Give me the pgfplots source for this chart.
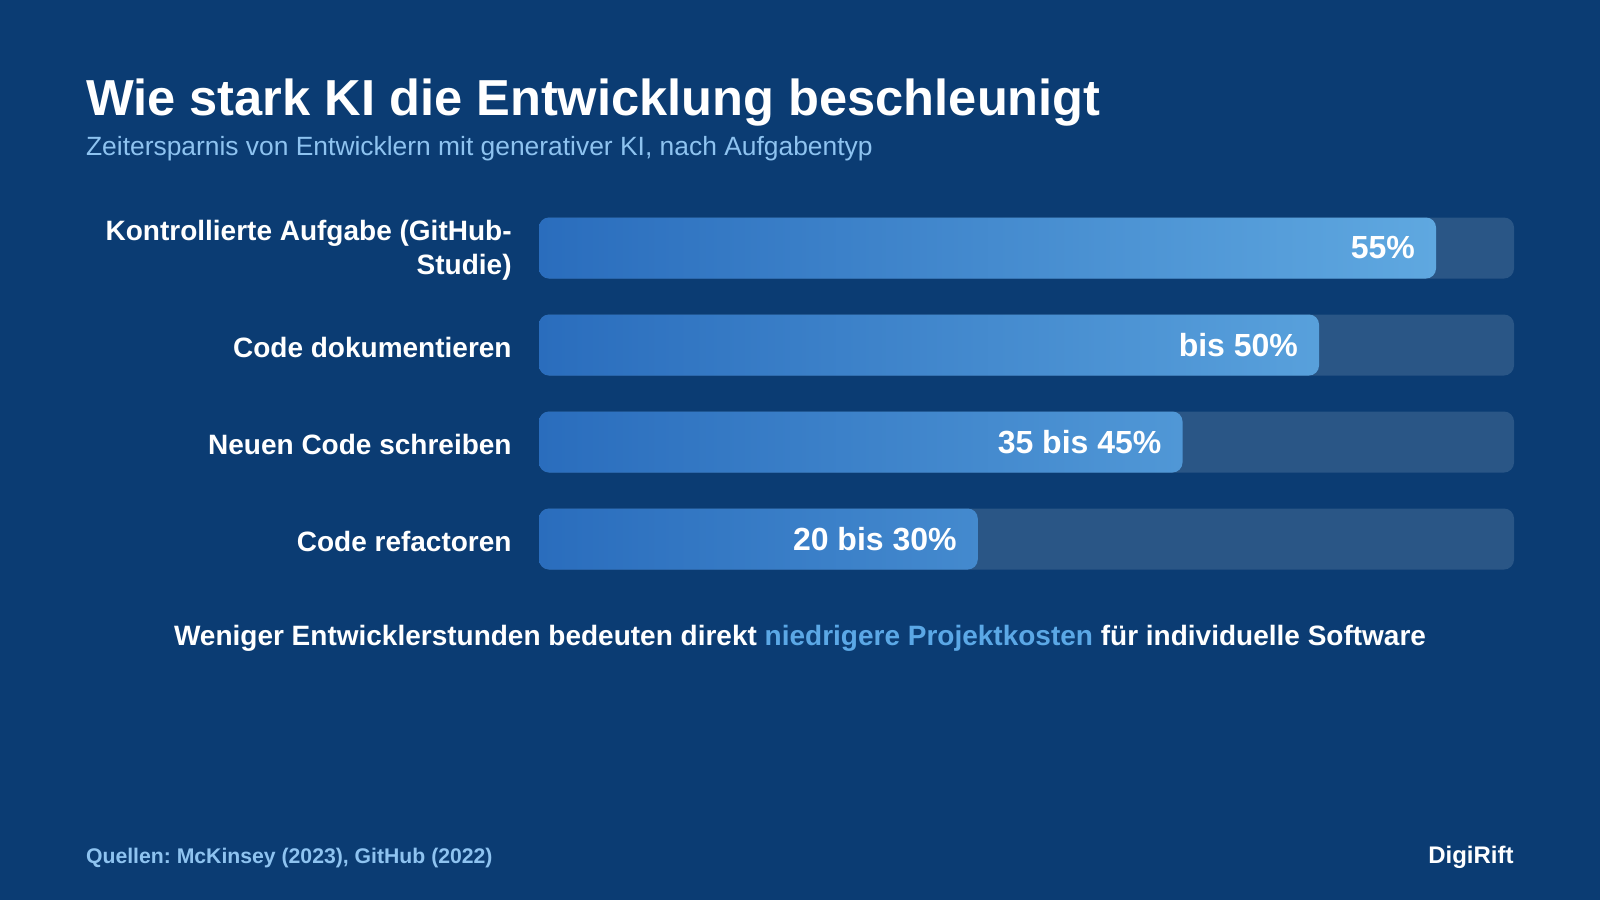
\documentclass[border=0pt]{standalone}
\usepackage{fontspec}
\setmainfont{Liberation Sans}
\usepackage{pgfplots}
\pgfplotsset{compat=1.18}
\frenchspacing
\definecolor{bg}{HTML}{0B3C73}
\definecolor{track}{HTML}{2A5686}
\definecolor{barL}{HTML}{2A6DBD}
\definecolor{barR}{HTML}{5FA8E0}
\definecolor{sub}{HTML}{8EC3F0}
\definecolor{hl}{HTML}{5BA8E6}
\begin{document}
\begin{tikzpicture}
\fill[bg] (0,0) rectangle (800pt,-450pt);
\node[anchor=base west, font=\bfseries\fontsize{25.3}{30}\selectfont, text=white, inner sep=0] at (42.85pt,-57.5pt) {Wie stark KI die Entwicklung beschleunigt};
\node[anchor=base west, font=\fontsize{13.2}{15}\selectfont, text=sub, inner sep=0] at (42.85pt,-77.5pt) {Zeitersparnis von Entwicklern mit generativer KI, nach Aufgabentyp};
\begin{axis}[at={(269.5pt,-99.75pt)}, anchor=north west,
  width=487.5pt, height=194pt, scale only axis,
  xmin=0, xmax=100, ymin=-0.5, ymax=3.5, y dir=reverse,
  axis line style={draw=none}, major tick length=0pt,
  xtick=\empty, ytick={0,1,2,3},
  yticklabels={{Kontrollierte Aufgabe (GitHub-\\Studie)},{Code dokumentieren},{Neuen Code schreiben},{Code refactoren}},
  yticklabel style={anchor=east, inner sep=0pt, xshift=-13.5pt, yshift=-1.2pt, align=right, text=white, font=\bfseries\fontsize{14}{17}\selectfont},
  xbar, bar width=30.5pt, bar shift=0pt, clip=false]
\addplot[draw=none, fill=track, rounded corners=5pt] coordinates {(100,0) (100,1) (100,2) (100,3)};
\addplot[draw=none, left color=barL, right color=barR, rounded corners=5pt,
  nodes near coords, point meta=explicit symbolic,
  every node near coord/.append style={anchor=east, xshift=-7pt, text=white, font=\bfseries\fontsize{16}{19}\selectfont}]
  coordinates {(92,0) [55\%] (80,1) [bis 50\%] (66,2) [35 bis 45\%] (45,3) [20 bis 30\%]};
\end{axis}
\node[anchor=base, font=\bfseries\fontsize{14}{17}\selectfont, text=white, inner sep=0] at (400pt,-322.5pt) {Weniger Entwicklerstunden bedeuten direkt \textcolor{hl}{niedrigere Projektkosten} für individuelle Software};
\node[anchor=base west, font=\bfseries\fontsize{10.6}{12}\selectfont, text=sub, inner sep=0] at (42.85pt,-431.5pt) {Quellen: McKinsey (2023), GitHub (2022)};
\node[anchor=base east, font=\bfseries\fontsize{12}{14}\selectfont, text=white, inner sep=0] at (757pt,-431.5pt) {DigiRift};
\end{tikzpicture}
\end{document}
